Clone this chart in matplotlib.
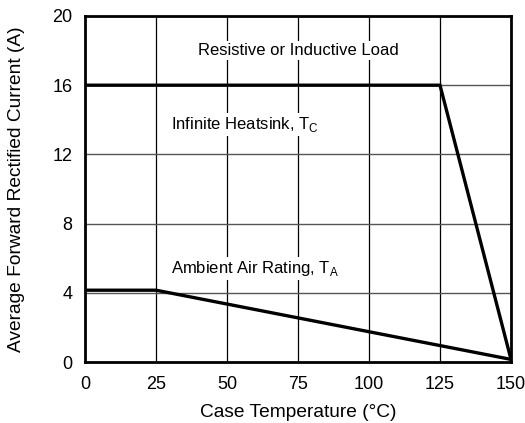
import numpy as np
import matplotlib.pyplot as plt

# derating curves
temp_tc = [0, 125, 150]
amps_tc = [16, 16, 0.15]
temp_ta = [0, 25, 150]
amps_ta = [4.15, 4.15, 0.15]

xticks = [0, 25, 50, 75, 100, 125, 150]
yticks = [0, 4, 8, 12, 16, 20]

plt.rcParams['font.family'] = ['Liberation Sans', 'DejaVu Sans']
plt.rcParams['mathtext.fontset'] = 'custom'
plt.rcParams['mathtext.rm'] = 'Liberation Sans'

fig = plt.figure(figsize=(5.25, 4.23), dpi=100)
ax = fig.add_axes([85/525, 1-362/423, 426/525, 346/423])

for x in xticks[1:-1]:
    ax.axvline(x, color='black', lw=0.9, zorder=1)
for y in yticks[1:-1]:
    ax.axhline(y, color='#555555', lw=1.0, zorder=1)

ax.plot(temp_tc, amps_tc, color='black', lw=2.4, zorder=3, solid_joinstyle='miter')
ax.plot(temp_ta, amps_ta, color='black', lw=2.4, zorder=3, solid_joinstyle='miter')

box = dict(facecolor='white', edgecolor='none', pad=1.5)
ax.text(75, 18, 'Resistive or Inductive Load', ha='center', va='center',
        fontsize=12, bbox=box, zorder=2)
ax.text(30.3, 13.7, 'Infinite Heatsink, T$_\\mathregular{C}$', ha='left', va='center',
        fontsize=12, bbox=box, zorder=2)
ax.text(30.3, 5.4, 'Ambient Air Rating, T$_\\mathregular{A}$', ha='left', va='center',
        fontsize=12, bbox=box, zorder=2)

ax.set_xlim(0, 150)
ax.set_ylim(0, 20)
ax.set_xticks(xticks)
ax.set_yticks(yticks)
ax.tick_params(axis='x', length=0, labelsize=13, pad=10)
ax.tick_params(axis='y', length=0, labelsize=13, pad=9)
for s in ax.spines.values():
    s.set_linewidth(2)
    s.set_zorder(4)

ax.set_xlabel('Case Temperature (°C)', fontsize=13.8, labelpad=8)
ax.set_ylabel('Average Forward Rectified Current (A)', fontsize=13.8)
ax.yaxis.set_label_coords(-0.14, 0.5)

plt.savefig('out.png', dpi=100)
